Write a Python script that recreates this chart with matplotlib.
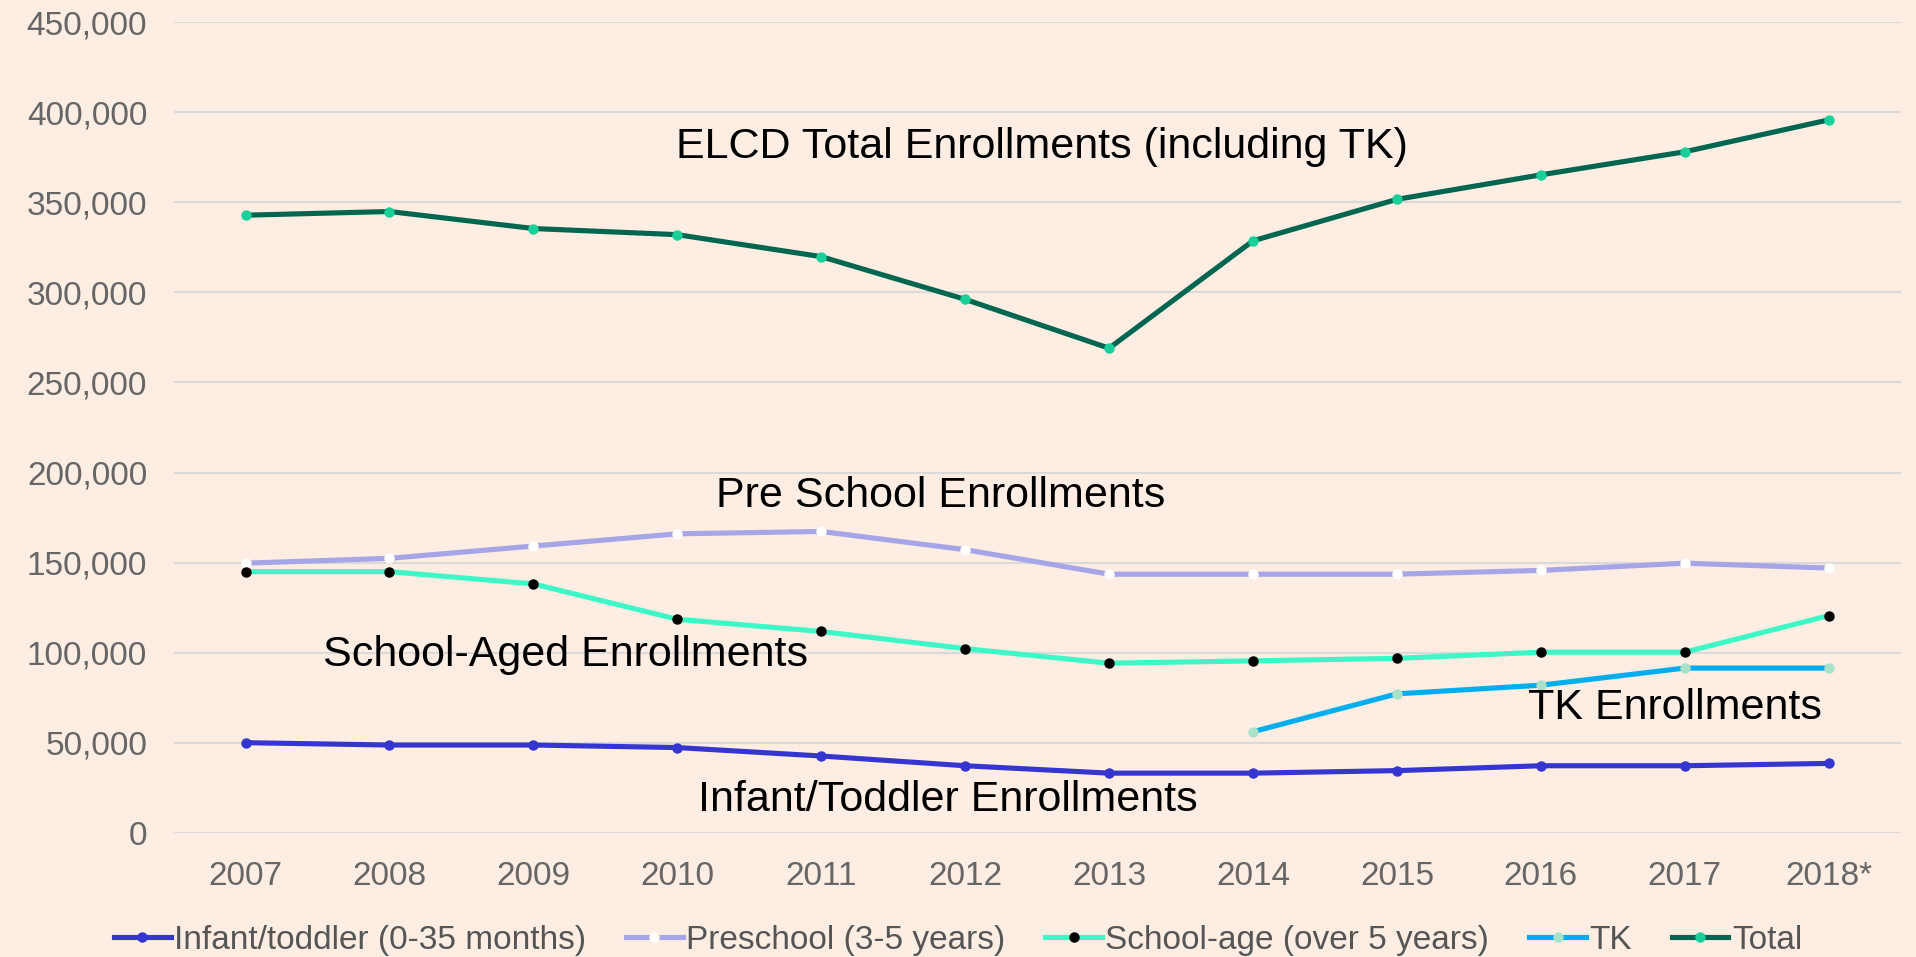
import numpy as np
import matplotlib
matplotlib.use('Agg')
import matplotlib.pyplot as plt
from matplotlib.ticker import FuncFormatter

plt.rcParams['font.family'] = ['Liberation Sans', 'DejaVu Sans']

years = ['2007', '2008', '2009', '2010', '2011', '2012', '2013', '2014', '2015', '2016', '2017', '2018*']

infant = [50100, 48800, 48800, 47400, 42700, 37300, 33200, 33200, 34600, 37300, 37300, 38600]
preschool = [149700, 152400, 159200, 166000, 167300, 157200, 143600, 143600, 143600, 145700, 149700, 147000]
school_age = [145000, 145000, 138200, 118600, 111800, 102300, 94200, 95500, 96900, 100300, 100300, 120600]
tk = [np.nan] * 7 + [56200, 77200, 82000, 91500, 91500]
total = [342800, 344850, 335400, 332000, 319800, 296100, 269000, 328600, 351600, 365200, 378000, 395700]

labels = ['Infant/toddler (0-35 months)', 'Preschool (3-5 years)', 'School-age (over 5 years)', 'TK', 'Total']

bg = '#FDEDE3'
fig = plt.figure(figsize=(19.16, 9.57), dpi=100, facecolor=bg)
ax = fig.add_axes([0.0906, 0.1296, 0.9014, 0.8474], facecolor=bg)

x = np.arange(len(years))
ax.plot(x, infant, color='#3535D0', lw=3.7, marker='o', ms=6.5, mfc='#3535D0', mec='#3535D0', label=labels[0])
ax.plot(x, preschool, color='#A5A5E8', lw=3.7, marker='o', ms=6.5, mfc='white', mec='white', label=labels[1])
ax.plot(x, school_age, color='#3DF7C6', lw=3.7, marker='o', ms=6.5, mfc='black', mec='black', label=labels[2])
ax.plot(x, tk, color='#00AEEF', lw=3.7, marker='o', ms=6.5, mfc='#A8E2C8', mec='#A8E2C8', label=labels[3])
ax.plot(x, total, color='#00664F', lw=3.7, marker='o', ms=6.5, mfc='#1ACF9A', mec='#1ACF9A', label=labels[4])

ax.set_xlim(-0.5, len(years) - 0.5)
ax.set_ylim(0, 450000)
ax.set_yticks(np.arange(0, 450001, 50000))
ax.yaxis.set_major_formatter(FuncFormatter(lambda v, p: f'{int(v):,}'))
ax.set_xticks(x)
ax.set_xticklabels(years)
ax.grid(axis='y', color='#DADADA', lw=1.5)
ax.set_axisbelow(True)
for s in ax.spines.values():
    s.set_visible(False)
ax.tick_params(length=0, labelsize=24, labelcolor='#666666')
ax.tick_params(axis='y', pad=19)
ax.tick_params(axis='x', pad=20)

# annotations
ann = dict(fontsize=31, color='black', ha='center', va='center')
ax.text(5.53, 380800, 'ELCD Total Enrollments (including TK)', **ann)
ax.text(4.83, 187000, 'Pre School Enrollments', **ann)
ax.text(2.22, 98900, 'School-Aged Enrollments', **ann)
ax.text(9.93, 69100, 'TK Enrollments', **ann)
ax.text(4.88, 18300, 'Infant/Toddler Enrollments', **ann)

leg = fig.legend(loc='lower center', bbox_to_anchor=(0.5, -0.03), ncol=5, frameon=False,
                 fontsize=24, handlelength=1.7, handletextpad=0.1, columnspacing=1.2,
                 labelcolor='#555555')

fig.savefig('out.png', dpi=100, facecolor=bg)
